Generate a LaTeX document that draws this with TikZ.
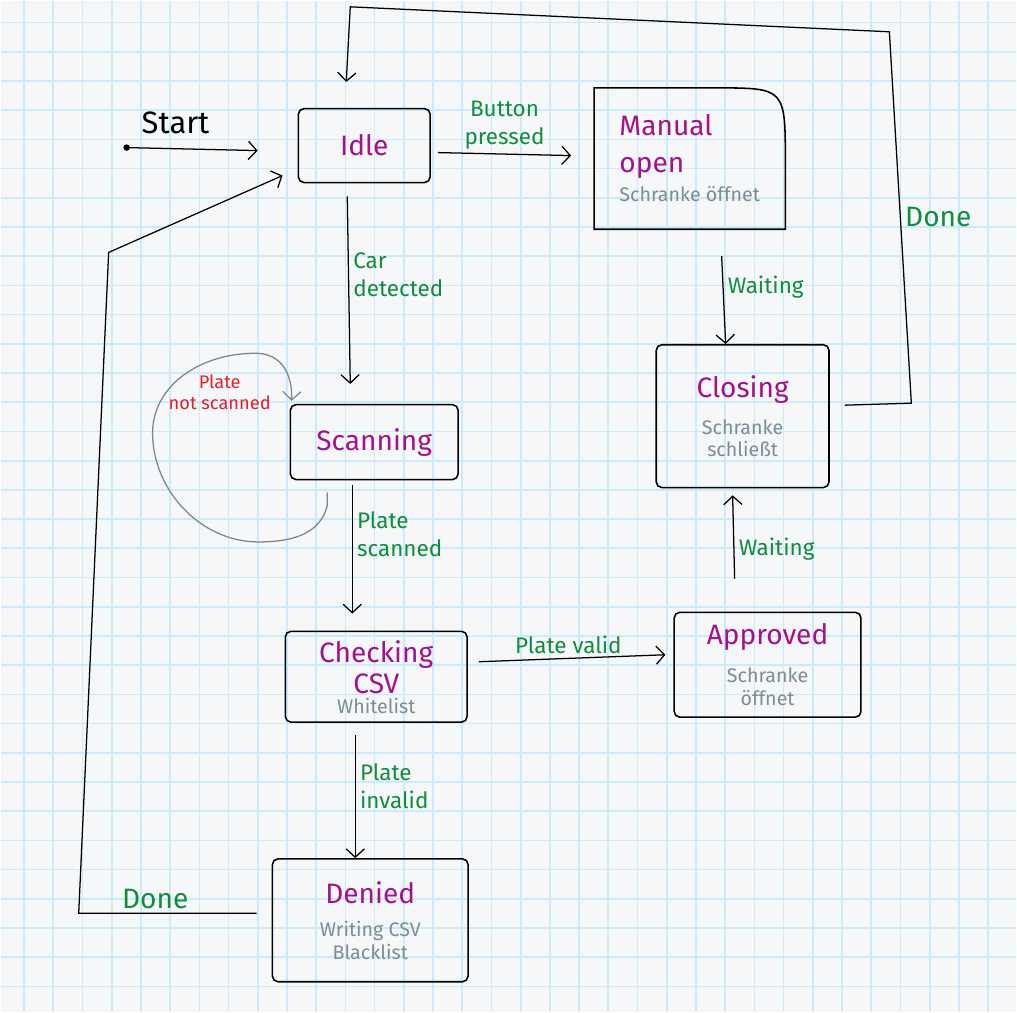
\documentclass[tikz,border=0pt]{standalone}
\usepackage{fontspec}
\setmainfont{Fira Sans}
\usetikzlibrary{arrows.meta,calc}

\definecolor{paper}{RGB}{245,247,249}
\definecolor{gridblue}{RGB}{204,234,250}
\definecolor{stname}{RGB}{163,18,140}
\definecolor{subgray}{RGB}{125,141,146}
\definecolor{lblgreen}{RGB}{18,140,62}
\definecolor{lblred}{RGB}{232,28,40}
\definecolor{loopgray}{RGB}{122,136,140}

\newcommand{\sname}{\fontsize{20}{24}\selectfont\color{stname}}
\newcommand{\ssub}{\fontsize{14}{17}\selectfont\color{subgray}}

\tikzset{
  state/.style={draw, line width=1.1pt, rounded corners=4pt, align=center, inner sep=0pt,
    font=\fontsize{14}{17}\selectfont},
  flow/.style={->, line width=0.9pt},
  lbl/.style={lblgreen, font=\fontsize{16}{20}\selectfont, align=left, inner sep=3pt},
  gridline/.style={draw=gridblue, line width=1.2pt},
}

\begin{document}
\begin{tikzpicture}[x=0.025cm, y=-0.025cm, >={Straight Barb[length=6pt,width=13pt]}]
    % the squared paper
    \fill[paper] (0,0) rectangle (1017,1013);
    \foreach \i in {0,...,33}{
        \draw[gridline] ({23.3+29.26*\i},0) -- ++(0,1013);
        \draw[gridline] (0,{21.7+29.26*\i}) -- ++(1017,0);
    }
    \useasboundingbox (0,0) rectangle (1017,1013);

    % the states
    \node[state, minimum width=3.3cm, minimum height=1.85cm] (idle) at (364,145) {\sname Idle};
    \node[state, draw=none, align=left, minimum width=4.75cm, minimum height=3.5cm] (manual) at (690,158)
        {\sname Manual\\[9pt] \sname open\\[4pt] \ssub Schranke öffnet};
    \node[state, minimum width=4.325cm, minimum height=3.575cm] (closing) at (743,416)
        {\sname Closing\\[9pt] \ssub Schranke\\[-1pt] \ssub schließt};
    \node[state, minimum width=4.2cm, minimum height=1.875cm] (scan) at (374,442) {\sname Scanning};
    \node[state, minimum width=4.55cm, minimum height=2.275cm] (check) at (376,677)
        {\sname Checking\\[3pt] \sname CSV\\[-3pt] \ssub Whitelist};
    \node[state, minimum width=4.675cm, minimum height=2.625cm] (appr) at (768,665)
        {\sname Approved\\[10pt] \ssub Schranke\\[-1pt] \ssub öffnet};
    \node[state, minimum width=4.9cm, minimum height=3.075cm] (denied) at (370,921)
        {\sname Denied\\[7pt] \ssub Writing CSV\\[-1pt] \ssub Blacklist};

    % manual open has its bent corner
    \draw[line width=1.1pt] (manual.south west) -- (manual.north west)
        -- ($(manual.north east)+(-70,0)$) .. controls (manual.north east) .. ($(manual.north east)+(0,75)$)
        -- (manual.south east) -- cycle;

    % start
    \coordinate (start) at (126,147);
    \fill (start) circle (2.3pt);
    \node[font=\fontsize{22}{24}\selectfont] (startlbl) at (175,122) {Start};
    \draw[flow] (start) -- ($(idle.west)+(-40,5)$);

    % transitions
    \draw[flow] ($(idle.east)+(7,7)$) --
        node[lbl, above, align=center] {Button\\pressed}
        ($(manual.west)+(-23,-3)$);
    \draw[flow] ($(manual.south)+(32,27)$) --
        node[lbl, right, pos=0.35] {Waiting}
        ($(closing.north)+(-17,0)$);
    \draw[flow] ($(idle.south)+(-17,13)$) --
        node[lbl, right, pos=0.42] {Car\\detected}
        ($(scan.north)+(-24,-20)$);
    \draw[flow] ($(scan.south)+(-22,5)$) --
        node[lbl, right, pos=0.38] {Plate\\scanned}
        ($(check.north)+(-24,-17)$);
    \draw[flow] ($(check.east)+(11,-15)$) --
        node[lbl, above, pos=0.48] {Plate valid}
        ($(appr.west)+(-8,-10)$);
    \draw[flow] ($(appr.north)+(-33,-33)$) --
        node[lbl, right, pos=0.35] {Waiting}
        ($(closing.south)+(-10,7)$);
    \draw[flow] ($(check.south)+(-21,12)$) --
        node[lbl, right, pos=0.42] {Plate\\invalid}
        ($(denied.north)+(-15,0)$);

    % plate not scanned
    \draw[->, line width=0.9pt, loopgray] ($(scan.south)+(-47,12)$) -- ++(0,13)
        .. controls (320,535) and (290,542) .. (258,542)
        .. controls (200,542) and (152,490) .. (152,433)
        .. controls (152,385) and (200,353) .. (255,353)
        .. controls (282,353) and (292,375) .. ($(scan.north west)+(2,-3)$);
    \node[lblred, font=\fontsize{13}{15}\selectfont, align=center] (notscanned)
        at ($(scan.west)+(-70,-50)$) {Plate\\not scanned};

    % back to idle
    \coordinate (cr) at (912,403);
    \coordinate (ct) at (890,31);
    \coordinate (ctl) at (350,6);
    \draw[flow] ($(closing.east)+(15,-11)$) -- (cr) --
        node[lbl, right, font=\fontsize{20}{24}\selectfont] {Done}
        (ct) -- (ctl) -- ($(idle.north)+(-18,-26)$);

    \coordinate (dl) at (78,914);
    \coordinate (du) at (108,252);
    \draw[flow] ($(denied.west)+(-15,-7)$) --
        node[lbl, above, pos=0.57, font=\fontsize{20}{24}\selectfont] {Done}
        (dl) -- (du) -- ($(idle.west)+(-15,30)$);
\end{tikzpicture}
\end{document}
